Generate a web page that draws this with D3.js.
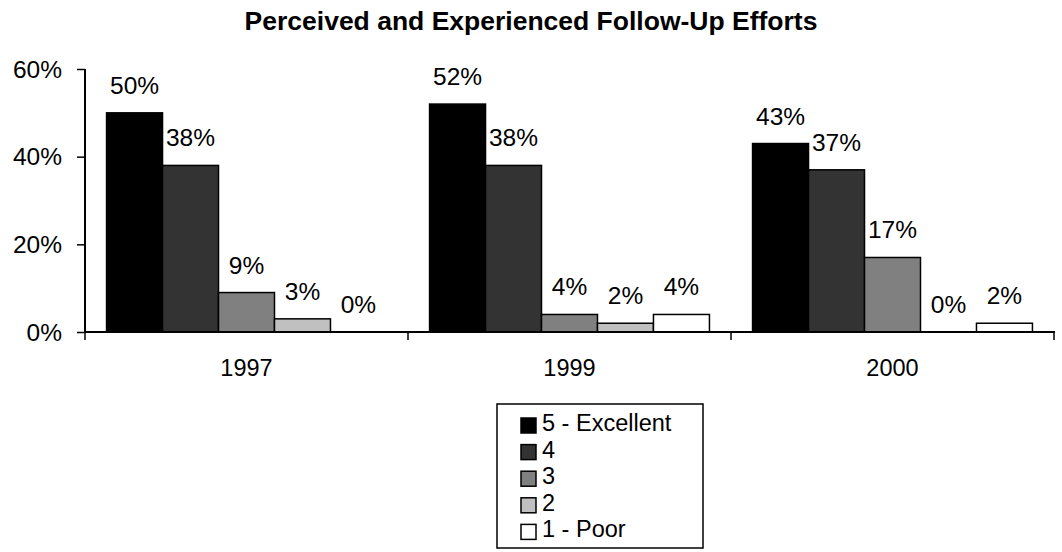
<!DOCTYPE html>
<html>
<head>
<meta charset="utf-8">
<script src="https://cdn.jsdelivr.net/npm/d3@7"></script>
<style>
  html, body { margin: 0; padding: 0; background: #fff; }
  svg { display: block; font-family: "Liberation Sans", Arial, sans-serif; }
</style>
</head>
<body>
<svg id="chart" width="1062" height="552"></svg>
<script>
// Survey years and rating levels
const years = ["1997", "1999", "2000"];
const ratings = ["5 - Excellent", "4", "3", "2", "1 - Poor"];
const fills = ["#000000", "#333333", "#808080", "#c0c0c0", "#ffffff"];

// Share of responses per rating, in percent, one array per year
const values1997 = [50, 38, 9, 3, 0];
const values1999 = [52, 38, 4, 2, 4];
const values2000 = [43, 37, 17, 0, 2];
const valuesByYear = [values1997, values1999, values2000];

const yTicks = [0, 20, 40, 60];
const title = "Perceived and Experienced Follow-Up Efforts";

const svg = d3.select("#chart");
const plotLeft = 85, plotRight = 1054, plotTop = 69, plotBottom = 332;

const x0 = d3.scaleBand().domain(years).range([plotLeft, plotRight]).padding(0);
const x1 = d3.scaleBand().domain(ratings).range([0, x0.bandwidth()])
  .paddingInner(0).paddingOuter(0.385);
const y = d3.scaleLinear().domain([0, 60]).range([plotBottom, plotTop]);

function txt(g, x, yy, s, size, anchor, weight) {
  return g.append("text")
    .attr("x", x)
    .attr("y", yy)
    .attr("text-anchor", anchor || "middle")
    .attr("font-size", size)
    .attr("font-weight", weight || "normal")
    .attr("fill", "#000")
    .text(s);
}

// Title
txt(svg, 531, 30, title, 26.5, "middle", "bold");

// Bars and value labels
const groups = svg.selectAll("g.year").data(years).join("g")
  .attr("class", "year")
  .attr("transform", d => `translate(${x0(d)},0)`);

groups.each(function (yr, i) {
  const g = d3.select(this);
  const vals = valuesByYear[i];
  ratings.forEach((r, j) => {
    const v = vals[j];
    if (v > 0) {
      g.append("rect")
        .attr("x", x1(r))
        .attr("y", y(v))
        .attr("width", x1.bandwidth())
        .attr("height", y(0) - y(v))
        .attr("fill", fills[j])
        .attr("stroke", "#000")
        .attr("stroke-width", 1.5);
    }
    txt(g, x1(r) + x1.bandwidth() / 2, y(v) - 19, v + "%", 24.5);
  });
});

// Y axis
const yAxis = d3.axisLeft(y).tickValues(yTicks).tickSize(8).tickFormat(d => d + "%");
const ya = svg.append("g").attr("transform", `translate(${plotLeft},0)`).call(yAxis);
ya.select(".domain").attr("stroke", "#000").attr("stroke-width", 2).attr("d", `M0,${plotTop}V${plotBottom}`);
ya.selectAll(".tick line").attr("stroke", "#000").attr("stroke-width", 1.5);
ya.selectAll(".tick text").remove();
yTicks.forEach(t => txt(ya, -23, y(t) + 8.5, t + "%", 24.5, "end"));

// X axis with category separators
const xa = svg.append("g");
xa.append("line").attr("x1", plotLeft).attr("x2", plotRight + 1).attr("y1", plotBottom).attr("y2", plotBottom)
  .attr("stroke", "#000").attr("stroke-width", 2);
const edges = years.map(d => x0(d)).concat([x0(years[years.length - 1]) + x0.bandwidth()]);
xa.selectAll("line.sep").data(edges).join("line").attr("class", "sep")
  .attr("x1", d => d).attr("x2", d => d).attr("y1", plotBottom).attr("y2", plotBottom + 8)
  .attr("stroke", "#000").attr("stroke-width", 1.5);
years.forEach(yr => txt(xa, x0(yr) + x0.bandwidth() / 2, 376, yr, 23.5));

// Legend
const lg = svg.append("g");
lg.append("rect").attr("x", 497).attr("y", 404).attr("width", 206).attr("height", 144)
  .attr("fill", "#fff").attr("stroke", "#000").attr("stroke-width", 1.5);
ratings.forEach((r, j) => {
  const base = 431 + j * 26.6;
  lg.append("rect").attr("x", 521).attr("y", base - 13).attr("width", 15).attr("height", 15)
    .attr("fill", fills[j]).attr("stroke", "#000").attr("stroke-width", 1.5);
  txt(lg, 542, base, r, 23.5, "start");
});
</script>
</body>
</html>
